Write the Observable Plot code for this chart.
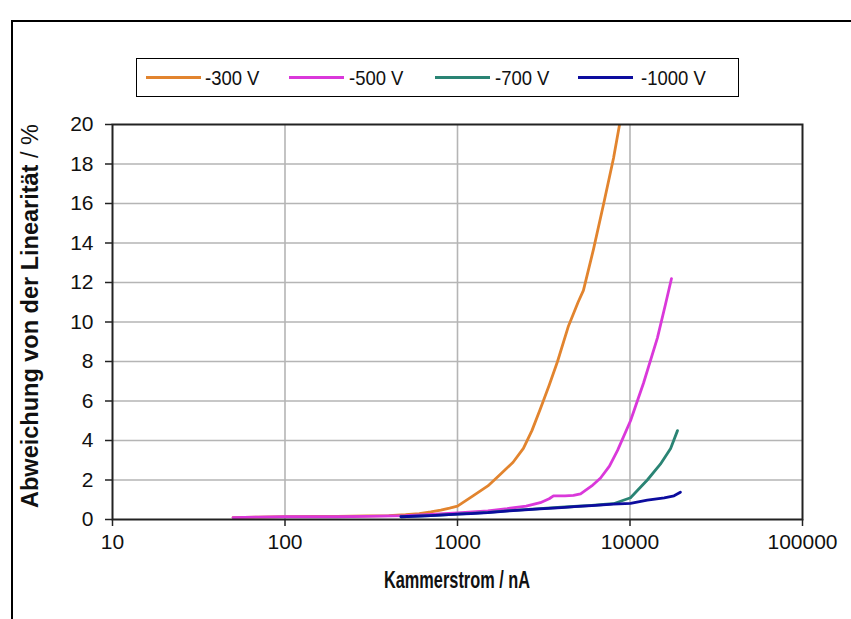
<!DOCTYPE html>
<html><head><meta charset="utf-8">
<script src="https://cdn.jsdelivr.net/npm/d3@7"></script>
<script src="https://cdn.jsdelivr.net/npm/@observablehq/plot@0.6"></script>
<style>
body{margin:0;background:#fff;}
#wrap{position:relative;width:851px;height:619px;overflow:hidden;background:#fff;font-family:"Liberation Sans",Arial,sans-serif;color:#111;}
#frame{position:absolute;left:11px;top:20px;width:900px;height:700px;border:2px solid #000;}
#legend{position:absolute;left:136px;top:58px;width:603px;height:39px;border:1.5px solid #000;box-sizing:border-box;background:#fff;}
.ll{position:absolute;height:3px;top:17px;}
.lt{position:absolute;top:7px;font-size:21px;line-height:24px;white-space:nowrap;transform:scaleX(0.88);transform-origin:left center;}
#xt{position:absolute;left:457px;top:566px;transform:translateX(-50%) scaleX(0.68);white-space:nowrap;font-weight:bold;font-size:24px;line-height:28px;}
#yt{position:absolute;left:30px;top:316px;transform:translate(-50%,-50%) rotate(-90deg);white-space:nowrap;font-weight:bold;font-size:23.5px;}
#yt span{font-weight:normal;}
#plot{position:absolute;left:0;top:0;}
</style></head>
<body>
<div id="wrap">
  <div id="frame"></div>
  <div id="plot"></div>
  <div id="legend"></div>
  <div id="xt">Kammerstrom / nA</div>
  <div id="yt">Abweichung von der Linearität <span>/ %</span></div>
</div>
<script>
// Series names and colours
const seriesNames = ["-300 V", "-500 V", "-700 V", "-1000 V"];
const seriesColors = ["#E2842E", "#DA38DA", "#2A8474", "#0C0C9E"];

// -300 V
const current300 = [50, 70, 100, 150, 200, 300, 400, 500, 600, 700, 800, 900, 1000, 1230, 1500, 1780, 2100, 2410, 2700, 3020, 3400, 3800, 4400, 5000, 5370, 6150, 7040, 8030, 8700];
const dev300     = [0.1, 0.12, 0.15, 0.16, 0.16, 0.18, 0.2, 0.24, 0.3, 0.38, 0.48, 0.58, 0.68, 1.2, 1.7, 2.3, 2.9, 3.6, 4.5, 5.6, 6.8, 8.0, 9.8, 11.0, 11.6, 13.7, 16.0, 18.3, 20.0];

// -500 V
const current500 = [50, 70, 100, 150, 200, 300, 500, 700, 1000, 1500, 1940, 2500, 3020, 3400, 3600, 4200, 4700, 5170, 6000, 6750, 7600, 8470, 10070, 11970, 14420, 16060, 17400];
const dev500     = [0.1, 0.12, 0.14, 0.14, 0.14, 0.16, 0.2, 0.26, 0.33, 0.44, 0.55, 0.68, 0.85, 1.05, 1.2, 1.2, 1.22, 1.3, 1.7, 2.1, 2.7, 3.5, 5.0, 6.9, 9.2, 10.9, 12.2];

// -700 V
const current700 = [470, 700, 1000, 1500, 2000, 3000, 4000, 5000, 6000, 7000, 8020, 10070, 12600, 15000, 17200, 18850];
const dev700     = [0.14, 0.2, 0.27, 0.36, 0.45, 0.55, 0.62, 0.67, 0.72, 0.76, 0.8, 1.1, 2.0, 2.8, 3.6, 4.5];

// -1000 V
const current1000 = [470, 700, 1000, 1200, 1500, 2000, 3000, 4000, 5000, 6000, 8000, 10070, 12600, 15800, 18000, 19600];
const dev1000     = [0.14, 0.2, 0.27, 0.3, 0.35, 0.44, 0.54, 0.6, 0.66, 0.7, 0.78, 0.82, 0.98, 1.1, 1.2, 1.38];

// Axis ticks
const xTicks = [10, 100, 1000, 10000, 100000];
const yTicks = [0, 2, 4, 6, 8, 10, 12, 14, 16, 18, 20];

const seriesX = [current300, current500, current700, current1000];
const seriesY = [dev300, dev500, dev700, dev1000];
const rows = seriesNames.map((name, i) => seriesX[i].map((x, j) => ({series: name, x, y: seriesY[i][j]})));

const chart = Plot.plot({
  width: 851, height: 619,
  marginLeft: 112, marginRight: 49, marginTop: 124, marginBottom: 100,
  x: {type: "log", domain: [10, 100000]},
  y: {domain: [0, 20]},
  style: {fontFamily: "'Liberation Sans', Arial, sans-serif", fontSize: "21px", color: "#111", background: "transparent", overflow: "visible"},
  marks: [
    Plot.gridX(xTicks.slice(1, -1), {stroke: "#b5b5b5", strokeOpacity: 1, strokeWidth: 1.6}),
    Plot.gridY(yTicks.slice(1, -1), {stroke: "#b5b5b5", strokeOpacity: 1, strokeWidth: 1.6}),
    ...rows.map((r, i) => Plot.line(r, {x: "x", y: "y", stroke: seriesColors[i], strokeWidth: 2.8, clip: true})),
    Plot.frame({stroke: "#222", strokeWidth: 2}),
    Plot.axisX(xTicks, {tickSize: 7, tickPadding: 8, tickFormat: d => String(d), label: null, stroke: "#222", strokeWidth: 1.5}),
    Plot.axisY(yTicks, {tickSize: 7, tickPadding: 12, tickFormat: d => String(d), label: null, stroke: "#222", strokeWidth: 1.5})
  ]
});
document.getElementById("plot").appendChild(chart);

// Legend
const legend = document.getElementById("legend");
const linePos = [9, 152, 298, 441];
const textPos = [68, 212, 358, 504];
seriesNames.forEach((name, i) => {
  const l = document.createElement("div");
  l.className = "ll";
  l.style.left = linePos[i] + "px";
  l.style.width = "55px";
  l.style.background = seriesColors[i];
  legend.appendChild(l);
  const t = document.createElement("div");
  t.className = "lt";
  t.style.left = textPos[i] + "px";
  t.textContent = name;
  legend.appendChild(t);
});
</script>
</body></html>
